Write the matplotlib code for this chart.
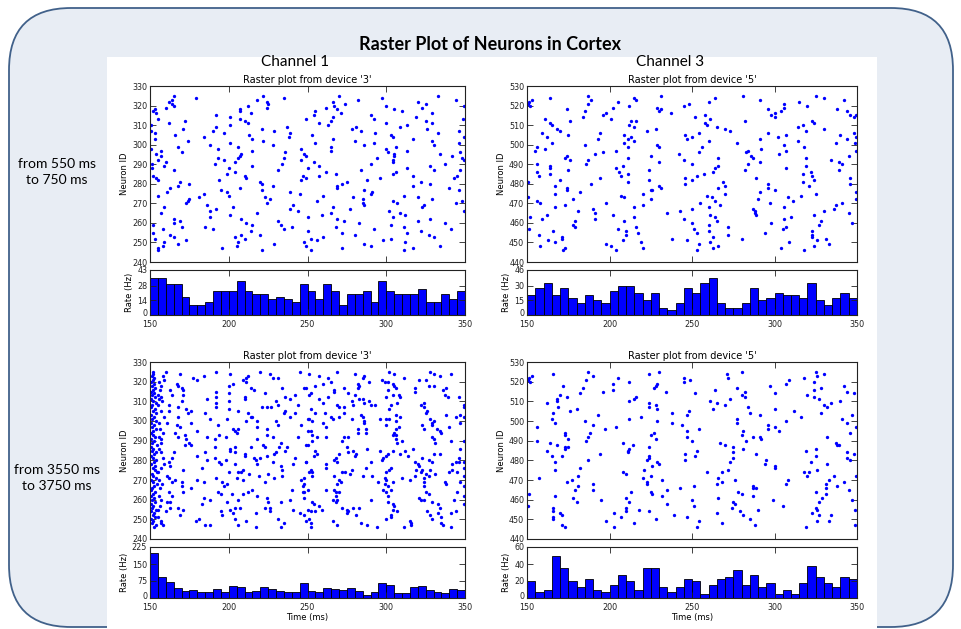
import matplotlib
matplotlib.use('Agg')
import matplotlib.pyplot as plt
import numpy as np
from matplotlib.patches import FancyBboxPatch, Rectangle
from matplotlib.transforms import ScaledTranslation

W, H = 961, 629

# ---------------- data ----------------
bin_start = np.arange(150, 350, 5)   # 5 ms histogram bins

rate_ch1_early = [35, 35, 30, 30, 17.5, 10, 10, 12.5, 22.5, 22.5, 22.5, 32.5, 22.5, 20, 20, 15, 17.5, 15, 12.5, 30,
                  22.5, 15, 30, 22.5, 10, 20, 20, 22.5, 12.5, 32.5, 22.5, 20, 20, 20, 25, 12.5, 12.5, 20, 15, 22.5]
rate_ch3_early = [20, 27.5, 32.5, 20, 27.5, 17.5, 12.5, 20, 15, 12.5, 25, 30, 30, 22.5, 15, 22.5, 7.5, 5, 12.5, 27.5,
                  22.5, 32.5, 37.5, 12.5, 7.5, 7.5, 12.5, 27.5, 15, 17.5, 22.5, 20, 20, 17.5, 32.5, 15, 10, 17.5, 22.5, 17.5]
rate_ch1_late = [200, 92.5, 72.5, 45, 30, 35, 25, 25, 40, 27.5, 52.5, 50, 27.5, 30, 50, 40, 30, 27.5, 27.5, 67.5,
                 32.5, 25, 42.5, 40, 37.5, 42.5, 30, 15, 25, 67.5, 57.5, 20, 22.5, 50, 55, 37.5, 27.5, 22.5, 40, 37.5]
rate_ch3_late = [20, 7.5, 10, 50, 35, 20, 12.5, 22.5, 10, 7.5, 15, 27.5, 20, 10, 35, 35, 12.5, 7.5, 12.5, 22.5,
                 20, 5, 15, 22.5, 25, 32.5, 15, 27.5, 12.5, 17.5, 5, 10, 5, 17.5, 37.5, 25, 17.5, 12.5, 25, 22.5]

rate_ticks_ch1_early = [0, 14, 28, 43]
rate_ticks_ch3_early = [0, 15, 30, 46]
rate_ticks_ch1_late = [0, 75, 150, 225]
rate_ticks_ch3_late = [0, 20, 40, 60]

# spikes as (time ms, neuron id)
spikes_ch1_early = [
    (165, 325), (179, 324), (164, 323), (162, 322), (164, 321), (165, 320), (160, 319), (153, 318), (152, 317), (154, 316),
    (155, 313), (162, 311), (172, 312), (171, 308), (150.5, 310), (150.5, 307), (153, 306), (166, 305), (153, 303), (174, 302),
    (168, 299), (150.5, 298), (157, 297), (154, 295), (170, 296), (157, 294), (155, 292), (151, 290), (160, 291), (159, 289),
    (151, 288), (165, 287), (152, 284), (154, 283), (155, 282), (169, 281), (168, 279), (175, 280), (163, 278), (161, 276),
    (155, 274), (175, 272), (174, 271), (173, 270), (159, 268), (157, 265), (165, 262), (165, 260), (169, 261), (170, 258),
    (152, 259), (158, 257), (163, 254), (165, 253), (152, 255), (153, 252), (173, 251), (168, 249), (159, 250), (158, 248),
    (155, 247), (155, 246),
    (192, 315), (201, 314), (192, 309), (190, 307), (184, 304), (201, 310), (197, 306), (188, 300), (193, 298), (201, 301),
    (207, 318), (207, 317), (214, 316), (212, 320), (207, 313), (210, 312), (212, 311), (206, 299), (213, 305), (215, 303),
    (215, 297), (193, 293), (197, 292), (204, 291), (207, 294), (208, 295), (206, 293), (191, 290), (200, 288), (199, 285),
    (204, 286), (194, 282), (210, 284), (211, 283), (215, 289), (195, 277), (199, 276), (200, 274), (207, 278), (184, 275),
    (181, 273), (186, 269), (188, 266), (192, 267), (188, 263), (201, 264), (203, 268), (185, 258), (190, 257), (208, 262),
    (211, 260), (215, 259), (214, 256), (204, 253), (210, 252), (208, 254), (206, 250), (205, 248), (196, 247), (220, 254),
    (221, 246), (218, 265), (220, 281), (221, 280), (221, 277), (223, 273), (224, 270), (226, 272), (228, 279),
    (222, 325), (218, 323), (224, 322), (225, 321), (224, 319), (235, 324), (221, 308), (222, 302), (229, 307), (228, 300),
    (237, 309), (239, 306), (238, 304), (249, 313), (246, 298), (248, 295), (249, 294), (246, 292), (236, 296), (235, 293),
    (234, 290), (231, 287), (246, 282), (247, 284), (239, 276), (245, 275), (241, 269), (239, 267), (244, 266), (231, 261),
    (233, 259), (235, 257), (240, 258), (250, 263), (250, 256), (229, 249), (248, 250), (249, 248),
    (270, 325), (282, 323), (266, 322), (297, 324), (274, 321), (267, 320), (262, 319), (269, 318), (271, 316), (255, 317),
    (254, 315), (266, 314), (265, 312), (263, 310), (257, 311), (290, 315), (292, 313), (300, 320), (305, 318), (310, 317),
    (300, 311), (309, 309), (313, 310), (320, 322), (325, 321), (323, 319), (329, 316), (319, 314), (325, 312), (329, 311),
    (326, 308), (333, 325), (344, 323), (349.5, 320), (349, 313),
    (278, 308), (281, 309), (284, 307), (293, 306), (253, 305), (255, 301), (266, 303), (265, 299), (265, 297), (280, 302),
    (286, 300), (292, 301), (303, 305), (304, 304), (300, 298), (301, 296), (306, 299), (313, 297), (305, 295), (305, 294),
    (304, 292), (304, 291), (317, 303), (329, 302), (330, 300), (333, 306), (346, 307), (349.5, 304), (346, 301), (347, 296),
    (342, 294), (348, 293), (334, 295), (337, 290), (349.5, 292),
    (250, 288), (254, 291), (257, 289), (262, 286), (268, 285), (257, 284), (249, 283), (290, 290), (284, 287), (294, 293),
    (313, 288), (304, 285), (306, 286), (296, 283), (288, 282), (317, 284), (322, 281), (317, 279), (328, 280), (328, 289),
    (330, 287), (343, 283), (345, 284), (347, 287), (340, 278), (346, 277),
    (260, 274), (256, 271), (269, 278), (269, 279), (272, 280), (275, 281), (279, 273), (285, 272), (285, 270), (286, 269),
    (286, 277), (291, 276), (290, 275), (304, 271), (307, 270), (311, 274), (320, 273), (324, 269), (323, 268), (329, 272),
    (344, 270), (348, 271), (349.5, 266),
    (259, 264), (266, 268), (265, 265), (269, 262), (273, 261), (277, 267), (283, 260), (268, 258), (272, 255), (260, 253),
    (256, 251), (252, 252), (252, 246),
    (280, 254), (292, 257), (302, 266), (304, 263), (309, 265), (312, 264), (303, 259), (311, 258), (313, 255), (298, 251),
    (303, 252), (312, 250), (320, 261), (322, 256), (328, 262), (327, 254), (330, 253), (337, 260), (341, 257), (286, 249),
    (290, 248), (272, 247), (311, 246), (317, 247), (334, 248),
]

spikes_ch3_early = [
    (151, 522), (153, 523), (152, 520), (164, 524), (150.6, 481), (150.4, 473), (151, 457), (152, 463), (157, 454), (158, 448),
    (156, 490), (156, 486), (157, 484), (156, 471), (158, 470), (155, 497), (156, 499), (161, 513), (164, 511), (165, 510),
    (159, 506), (162, 504), (161, 498), (165, 501), (168, 508), (170, 507), (164, 489), (164, 488), (164, 485), (167, 479),
    (167, 475), (167, 468), (159, 462), (162, 464), (166, 456), (163, 451), (167, 450), (171, 453), (171, 452), (172, 446),
    (173, 447), (170, 482), (174, 518), (176, 512), (175, 505), (173, 493), (174, 494), (176, 492), (175, 487), (174, 478),
    (174, 477), (173, 469), (178, 472), (181, 466), (179, 461), (179, 458), (178, 459), (182, 476), (184, 514), (185, 517),
    (187, 521), (187, 525), (189, 523), (185, 500), (186, 490), (187, 492), (191, 495), (189, 480), (190, 467), (191, 465),
    (191, 462), (193, 503), (194, 483), (194, 506), (196, 515), (198, 516), (196, 496), (198, 470), (202, 519), (201, 513),
    (202, 464), (198, 449), (201, 448), (204, 446), (204, 497), (204, 488), (205, 522), (206, 486), (207, 484), (207, 474),
    (208, 489), (209, 473), (211, 481), (209, 505), (209, 501), (211, 503), (211, 499), (211, 493), (211, 485), (209, 461),
    (210, 456), (210, 454), (208, 451), (205, 457), (212, 520), (212, 510), (213, 512), (215, 524), (216, 523), (215, 509),
    (216, 512), (213, 504), (215, 502), (215, 463), (216, 458), (217, 455), (215, 468), (220, 475), (220, 469), (219, 450),
    (220, 447), (223, 507), (224, 487), (224, 482), (225, 477), (225, 472), (226, 477), (225, 494), (228, 508), (229, 500),
    (230, 499), (230, 491), (229, 519), (231, 518), (230, 517), (231, 525), (230, 479), (231, 478), (235, 465), (237, 516),
    (238, 452), (242, 495), (245, 520), (245, 492), (150.4, 521),
    (248, 521), (260, 522), (264, 524), (281, 525), (291, 523), (306, 521), (306, 519), (296, 518), (298, 515), (300, 514),
    (300, 516), (304, 517), (315, 522), (320, 520), (325, 525), (330, 524), (342, 523), (338, 518), (344, 517), (346, 515),
    (348, 514), (349.5, 515), (252, 514), (258, 515), (261, 513), (258, 511), (259, 510), (265, 509), (270, 508), (273, 507),
    (254, 506), (246, 505), (247, 503), (250, 504), (260, 502), (256, 499), (254, 496), (250, 490), (277, 501), (282, 512),
    (284, 497), (283, 496), (286, 494), (287, 493), (291, 491), (284, 490), (282, 487), (292, 498), (291, 503), (296, 506),
    (302, 504), (307, 505), (303, 495), (307, 497), (306, 500), (307, 488), (314, 509), (317, 510), (319, 507), (314, 502),
    (318, 499), (323, 512), (324, 511), (330, 508), (319, 493), (319, 489), (322, 486), (323, 484), (324, 482), (317, 485),
    (317, 481), (321, 479), (325, 475), (316, 474), (340, 505), (337, 501), (344, 503), (348, 506), (349.5, 504), (349.5, 497),
    (349, 501), (345, 494), (334, 492), (339, 491), (341, 490), (339, 487), (346, 483), (346, 480), (349.5, 476), (349.5, 472),
    (341, 470), (337, 469), (336, 467), (345, 465), (347, 460), (330, 466), (328, 461), (327, 459), (324, 464), (323, 456),
    (323, 454), (323, 453), (326, 451), (331, 452), (333, 449), (324, 448), (318, 446), (309, 450), (304, 447), (246, 483),
    (246, 480), (250, 482), (253, 484), (257, 485), (264, 488), (263, 486), (266, 489), (266, 493), (269, 481), (270, 479),
    (266, 478), (270, 475), (259, 474), (262, 473), (264, 471), (260, 468), (255, 470), (250, 467), (243, 466), (245, 462),
    (261, 464), (264, 463), (265, 461), (267, 469), (272, 458), (272, 454), (250, 460), (251, 457), (253, 455), (260, 459),
    (260, 456), (263, 453), (247, 451), (261, 450), (254, 449), (253, 446), (263, 447), (266, 448), (280, 452), (289, 483),
    (291, 476), (290, 472), (296, 480), (296, 478), (300, 477), (297, 470), (287, 467), (288, 466), (288, 465), (289, 464),
    (298, 460), (294, 455), (306, 462), (310, 463), (308, 473), (311, 471), (306, 468), (307, 458), (305, 457),
]

spikes_ch1_late = [
    # onset burst, one spike per neuron in the first bin
    (151.6, 325), (152.2, 324), (151.1, 323), (152.8, 322), (151.9, 321), (150.7, 320), (152.4, 319), (151.3, 318),
    (153.0, 317), (151.8, 316), (150.9, 315), (152.6, 314), (151.4, 313), (153.3, 312), (150.6, 311), (152.0, 310),
    (153.8, 309), (151.2, 308), (150.4, 307), (152.9, 306), (151.7, 305), (154.1, 304), (150.8, 303), (152.3, 302),
    (151.5, 301), (153.5, 300), (150.5, 299), (152.7, 298), (151.0, 297), (153.9, 296), (152.1, 295), (150.9, 294),
    (151.8, 293), (153.2, 292), (150.6, 291), (152.5, 290), (151.4, 289), (154.4, 288), (150.8, 287), (152.0, 286),
    (151.2, 285), (153.6, 284), (152.8, 283), (150.7, 282), (151.9, 281), (154.0, 280), (152.4, 279), (150.5, 278),
    (153.1, 277), (151.6, 276), (152.9, 275), (154.6, 274), (151.0, 273), (152.2, 272), (153.7, 271), (150.9, 270),
    (151.8, 269), (154.2, 268), (152.6, 267), (151.3, 266), (150.6, 265), (153.4, 264), (151.9, 263), (150.8, 262),
    (152.7, 261), (151.5, 260), (153.0, 259), (150.4, 258), (152.1, 257), (151.2, 256), (153.8, 255), (150.9, 254),
    (152.4, 253), (151.6, 252), (153.3, 251), (150.7, 250), (152.0, 249), (151.1, 248), (153.6, 247), (152.5, 246),
    (155.6, 320), (156.3, 316), (155.2, 308), (156.8, 305), (155.9, 299), (156.5, 296), (155.4, 286), (157.3, 284),
    (155.8, 270), (156.2, 266), (155.5, 262), (157.0, 260), (156.4, 257), (155.3, 255), (157.6, 310), (156.9, 318),
    (155.7, 292), (157.4, 268),
    (160, 325), (169, 324), (177, 322), (180, 321), (184, 323), (192, 325), (201, 324), (209, 321), (211, 322), (212, 323),
    (220, 325), (226, 324), (228, 322), (231, 322), (245, 325), (158, 323), (159, 321), (167, 319), (168, 318), (170, 317),
    (171, 316), (163, 316), (164, 313), (192, 315), (200, 318), (203, 319), (200, 314), (214, 317), (216, 316), (211, 320),
    (223, 314), (234, 317), (236, 312), (239, 311), (248, 317), (242, 313), (156, 311), (155, 313), (157, 312), (162, 308),
    (168, 307), (170, 310), (171, 313), (186, 311), (192, 312), (192, 309), (192, 307), (200, 310), (200, 306), (206, 305),
    (210, 312), (210, 311), (212, 304), (215, 302), (221, 307), (224, 307), (227, 307), (230, 310), (231, 308), (235, 304),
    (236, 305), (239, 302), (242, 304), (244, 308), (159, 302), (161, 299), (162, 305), (168, 302), (167, 298), (169, 297),
    (173, 306), (174, 304), (176, 305), (176, 299), (185, 304), (188, 301), (193, 298), (199, 301), (203, 296), (204, 295),
    (205, 294), (206, 296), (211, 300), (214, 302), (218, 300), (218, 297), (224, 296), (230, 300), (231, 298), (246, 298),
    (250, 301), (158, 294), (157, 291), (157, 289), (166, 294), (168, 292), (172, 293), (173, 291), (175, 289), (176, 288),
    (172, 288), (180, 295), (186, 292), (191, 291), (191, 287), (194, 293), (198, 292), (201, 285), (201, 286), (204, 287),
    (204, 284), (210, 283), (214, 287), (218, 291), (222, 288), (224, 293), (223, 287), (228, 292), (233, 289), (232, 287),
    (229, 283), (236, 285), (237, 287), (244, 292), (249, 288), (165, 284), (158, 281), (159, 278), (162, 279), (163, 277),
    (164, 281), (171, 275), (180, 282), (185, 284), (186, 280), (191, 281), (194, 279), (195, 278), (198, 280), (204, 278),
    (209, 275), (208, 274), (210, 282), (216, 281), (217, 280), (218, 278), (220, 281), (224, 282), (228, 279), (230, 284),
    (233, 277), (234, 275), (242, 281), (241, 278), (249, 279), (155, 274), (157, 276), (161, 272), (162, 271), (164, 269),
    (166, 270), (170, 269), (180, 270), (183, 276), (184, 269), (192, 271), (196, 269), (197, 267), (199, 268), (200, 274),
    (205, 271), (206, 274), (209, 270), (213, 273), (219, 272), (225, 273), (223, 269), (229, 271), (234, 272), (246, 270),
    (248, 268), (162, 264), (164, 262), (163, 259), (161, 259), (170, 267), (171, 264), (176, 266), (184, 261), (183, 258),
    (188, 260), (193, 264), (195, 263), (199, 259), (202, 263), (206, 260), (209, 263), (207, 256), (212, 264), (215, 265),
    (218, 262), (224, 261), (225, 259), (226, 256), (233, 259), (240, 265), (239, 260), (247, 267), (247, 264), (248, 261),
    (160, 254), (163, 256), (168, 256), (169, 252), (171, 255), (179, 249), (181, 250), (185, 247), (188, 247), (195, 254),
    (196, 252), (201, 255), (203, 253), (204, 250), (204, 256), (206, 247), (211, 249), (217, 246), (217, 253), (223, 256),
    (226, 254), (231, 250), (233, 246), (235, 248), (241, 255), (245, 253), (249, 249), (157, 249), (158, 247), (155, 251),
    (157, 248),
    (251, 324), (257, 323), (269, 325), (280, 324), (286, 323), (285, 322), (282, 319), (283, 318), (282, 317), (263, 322),
    (265, 320), (260, 319), (255, 318), (249, 317), (267, 316), (267, 315), (263, 312), (252, 314), (251, 313), (257, 311),
    (260, 309), (273, 317), (276, 314), (280, 313), (289, 320), (297, 321), (302, 325), (305, 324), (301, 320), (304, 319),
    (305, 318), (306, 317), (301, 316), (299, 320), (311, 322), (304, 313), (300, 312), (308, 313), (309, 312), (307, 309),
    (303, 308), (302, 306), (318, 317), (318, 315), (321, 321), (325, 321), (327, 318), (330, 318), (328, 325), (330, 324),
    (334, 323), (336, 316), (338, 317), (337, 313), (339, 312), (341, 324), (346, 312), (349.5, 308), (349.5, 307),
    (252, 306), (255, 304), (251, 301), (253, 300), (261, 304), (265, 302), (269, 308), (270, 307), (273, 307), (273, 304),
    (266, 301), (270, 302), (278, 310), (279, 308), (283, 311), (285, 311), (286, 309), (289, 310), (284, 303), (285, 302),
    (286, 300), (286, 299), (278, 301), (273, 292), (272, 290), (276, 292), (282, 296), (282, 294), (287, 296), (287, 294),
    (290, 308), (293, 308), (296, 301), (300, 298), (300, 301), (302, 301), (306, 300), (306, 303), (309, 302), (308, 297),
    (306, 296), (305, 294), (306, 293), (304, 293), (306, 291), (310, 290), (307, 289), (322, 308), (324, 307), (324, 309),
    (326, 305), (325, 304), (328, 301), (329, 299), (330, 300), (324, 296), (329, 298), (323, 298), (332, 296), (334, 295),
    (335, 294), (329, 292), (330, 291), (331, 289), (334, 283), (338, 303), (341, 290), (340, 297), (344, 302), (347, 303),
    (347, 299), (349.5, 302), (347, 286), (349.5, 290),
    (250, 295), (252, 295), (253, 293), (250, 288), (253, 290), (256, 292), (255, 285), (256, 283), (254, 282), (260, 299),
    (262, 297), (262, 292), (275, 287), (270, 283), (279, 285), (281, 283), (280, 282), (276, 284), (288, 286), (296, 285),
    (297, 280), (298, 281), (300, 282), (301, 283), (304, 285), (309, 283), (312, 285), (314, 282), (317, 286), (318, 279),
    (320, 278), (323, 281), (327, 280), (329, 279), (330, 283), (342, 278), (344, 279), (346, 279), (346, 281), (349.5, 279),
    (349.5, 276),
    (249, 279), (252, 275), (251, 274), (253, 274), (253, 272), (248, 271), (262, 278), (262, 276), (267, 280), (268, 281),
    (269, 279), (272, 274), (274, 274), (278, 275), (277, 273), (270, 270), (271, 269), (269, 268), (267, 272), (290, 279),
    (287, 276), (285, 272), (291, 272), (300, 274), (302, 275), (303, 276), (299, 271), (300, 270), (299, 268), (301, 267),
    (295, 269), (304, 269), (310, 271), (315, 270), (318, 272), (319, 275), (321, 277), (322, 274), (323, 275), (325, 273),
    (324, 271), (324, 269), (328, 275), (327, 272), (324, 267), (331, 273), (337, 269), (338, 268), (340, 274), (342, 275),
    (345, 274), (347, 269), (349.5, 272), (349.5, 267),
    (250, 265), (248, 264), (253, 259), (254, 258), (257, 257), (259, 255), (250, 255), (252, 254), (255, 254), (248, 252),
    (251, 250), (252, 248), (252, 246), (262, 265), (267, 265), (268, 264), (268, 262), (270, 264), (266, 260), (268, 259),
    (269, 260), (272, 256), (275, 255), (276, 254), (275, 253), (281, 252), (279, 256), (283, 256), (284, 248), (288, 247),
    (290, 260), (266, 249), (269, 247), (294, 246), (298, 265), (300, 264), (303, 265), (301, 262), (301, 259), (304, 258),
    (305, 257), (304, 255), (307, 254), (303, 252), (303, 251), (300, 250), (311, 246), (315, 249), (316, 248), (316, 247),
    (321, 261), (322, 260), (324, 260), (325, 264), (327, 263), (329, 259), (326, 254), (328, 252), (329, 250), (333, 258),
    (334, 256), (333, 253), (335, 251), (335, 248), (336, 247), (341, 246), (341, 253), (344, 254), (343, 260), (345, 264),
    (349.5, 262), (349.5, 258),
]

spikes_ch3_late = [
    (151, 522), (153, 523), (152, 520), (150.4, 521), (166, 524), (172, 518), (170, 513), (174, 512), (168, 511), (168, 510),
    (169, 507), (162, 509), (176, 505), (180, 506), (166, 504), (165, 501), (167, 499), (187, 525), (190, 523), (186, 521),
    (184, 517), (182, 514), (193, 503), (185, 500), (190, 498), (187, 492), (186, 490), (188, 494), (196, 515), (202, 519),
    (202, 516), (205, 522), (212, 520), (212, 510), (215, 511), (216, 512), (212, 501), (204, 497), (208, 489), (211, 485),
    (211, 484), (212, 486), (214, 488), (208, 474), (210, 473), (224, 524), (230, 525), (228, 518), (227, 517), (229, 519),
    (224, 509), (224, 507), (228, 508), (229, 506), (219, 502), (229, 500), (225, 493), (227, 494), (228, 491), (224, 487),
    (224, 482), (224, 481), (223, 480), (226, 477), (221, 475), (230, 478), (229, 479), (220, 471), (223, 469), (223, 468),
    (225, 472), (225, 464), (226, 463), (232, 470), (232, 462), (235, 465), (234, 515), (238, 504), (238, 499), (244, 498),
    (239, 452), (243, 466), (235, 458), (156, 497), (156, 490), (164, 489), (162, 485), (168, 488), (165, 482), (171, 482),
    (173, 486), (173, 487), (173, 494), (173, 493), (175, 491), (175, 487), (167, 479), (167, 475), (182, 476), (181, 472),
    (177, 470), (181, 467), (179, 465), (178, 461), (180, 459), (174, 469), (151, 463), (150.6, 457), (157, 471), (167, 462),
    (166, 456), (166, 454), (166, 451), (166, 450), (170, 453), (171, 452), (171, 447), (173, 446), (190, 468), (190, 465),
    (195, 460), (187, 480), (194, 483), (197, 496), (210, 461), (210, 456), (210, 454), (212, 459), (213, 464), (207, 451),
    (203, 453), (198, 449), (203, 446), (215, 448), (218, 455), (224, 454), (228, 450), (245, 522), (245, 520), (246, 480),
    (249, 521), (252, 514), (264, 516), (271, 524), (272, 522), (280, 525), (277, 517), (282, 515), (280, 513), (282, 512),
    (273, 511), (261, 510), (265, 509), (263, 506), (270, 508), (284, 507), (285, 504), (277, 501), (277, 499), (280, 493),
    (291, 503), (297, 518), (300, 514), (300, 506), (291, 492), (292, 491), (287, 492), (283, 490), (281, 486), (296, 498),
    (296, 496), (300, 497), (303, 495), (307, 500), (307, 519), (309, 521), (312, 505), (316, 502), (318, 522), (324, 520),
    (325, 525), (326, 523), (330, 524), (324, 516), (328, 517), (320, 513), (324, 512), (327, 511), (330, 508), (332, 507),
    (334, 509), (340, 510), (342, 518), (344, 515), (348, 514), (328, 504), (347, 503), (344, 499), (341, 501), (346, 494),
    (349.5, 497), (332, 492), (337, 489), (338, 488), (339, 488), (344, 484), (348, 483), (344, 481), (346, 480), (349.5, 472),
    (248, 505), (247, 503), (247, 495), (247, 492), (250, 490), (246, 483), (253, 485), (252, 482), (254, 496), (267, 489),
    (270, 488), (275, 487), (275, 484), (275, 481), (273, 479), (272, 475), (281, 495), (289, 483), (295, 480), (294, 478),
    (300, 477), (300, 476), (319, 485), (325, 486), (325, 482), (322, 479), (332, 478), (326, 475), (321, 474), (320, 472),
    (318, 474), (333, 470), (331, 468), (331, 466), (325, 464), (342, 469), (345, 465), (338, 467), (336, 472), (259, 474),
    (266, 471), (268, 474), (268, 469), (265, 468), (276, 470), (251, 467), (250, 460), (251, 457), (266, 461), (265, 453),
    (275, 459), (276, 458), (274, 456), (280, 463), (278, 464), (279, 454), (281, 452), (287, 467), (287, 466), (289, 466),
    (287, 462), (290, 455), (285, 450), (288, 447), (299, 460), (305, 457), (307, 468), (308, 470), (247, 451), (254, 449),
    (253, 446), (268, 448), (323, 453), (326, 455), (327, 452), (325, 456), (326, 449), (329, 461), (327, 459), (331, 463),
    (334, 452), (333, 449), (319, 446), (347, 460), (349, 455), (349, 447),
]

# ---------------- layout helpers ----------------
def box(x0, y0, x1, y1):
    # pixel box (top-left origin) -> figure fraction rect
    return [x0 / W, 1 - y1 / H, (x1 - x0) / W, (y1 - y0) / H]


def frame(ax):
    ax.tick_params(direction='in', top=True, right=True, length=4, width=0.6,
                   labelsize=5.8, pad=2, colors='#222222')
    for sp in ax.spines.values():
        sp.set_linewidth(0.8)
        sp.set_color('#222222')


def raster(rect, spikes, ylo, title, hist_rect, rates, rticks, xlabel=False):
    ax = fig.add_axes(box(*rect))
    t, ids = zip(*spikes)
    ax.plot(t, ids, 'o', ms=2.4, mew=0, color='blue')
    ax.set_xlim(150, 350)
    ax.set_ylim(ylo, ylo + 90)
    ax.set_yticks(range(ylo, ylo + 91, 10))
    ax.set_xticks([150, 200, 250, 300, 350])
    ax.set_xticklabels([])
    ax.set_title(title, fontsize=7, pad=2.5)
    ax.set_ylabel('Neuron ID', fontsize=6, labelpad=2)
    frame(ax)

    hx = fig.add_axes(box(*hist_rect))
    hx.bar(bin_start, rates, width=5, align='edge', color='blue',
           edgecolor='black', linewidth=0.6)
    hx.set_xlim(150, 350)
    hx.set_ylim(0, rticks[-1])
    hx.set_yticks(rticks)
    hx.set_xticks([150, 200, 250, 300, 350])
    hx.set_ylabel('Rate (Hz)', fontsize=6, labelpad=2)
    if xlabel:
        hx.set_xlabel('Time (ms)', fontsize=6, labelpad=0.5)
    frame(hx)
    hx.tick_params(axis='x', pad=3.5)
    # nudge the "0" label up a little, as in the original, so it clears the time labels
    zero = hx.get_yticklabels()[0]
    zero.set_transform(zero.get_transform() + ScaledTranslation(0, 1.8 / 72, fig.dpi_scale_trans))


fig = plt.figure(figsize=(W / 100, H / 100), dpi=100)

bg = fig.add_axes([0, 0, 1, 1])
bg.set_xlim(0, W)
bg.set_ylim(H, 0)
bg.axis('off')
bg.add_patch(FancyBboxPatch((9, 8), 944, 619, boxstyle='round,pad=0,rounding_size=62',
                            fc='#e8edf4', ec='#41618a', lw=1.3))
bg.add_patch(Rectangle((107, 57), 770, 572, fc='white', ec='none'))

slide_font = ['Lato', 'DejaVu Sans']
bg.text(490, 44, 'Raster Plot of Neurons in Cortex', ha='center', va='center',
        fontsize=13, fontweight='bold', family=slide_font, color='black')
bg.text(295, 62, 'Channel 1', ha='center', va='center', fontsize=11, family=slide_font)
bg.text(670, 62, 'Channel 3', ha='center', va='center', fontsize=11, family=slide_font)
bg.text(57, 172, 'from 550 ms\nto 750 ms', ha='center', va='center', fontsize=10,
        family=slide_font, linespacing=1.45)
bg.text(57, 478, 'from 3550 ms\nto 3750 ms', ha='center', va='center', fontsize=10,
        family=slide_font, linespacing=1.45)

raster((150, 86, 465, 262), spikes_ch1_early, 240, "Raster plot from device '3'",
       (150, 270, 465, 315), rate_ch1_early, rate_ticks_ch1_early)
raster((527, 86, 857, 262), spikes_ch3_early, 440, "Raster plot from device '5'",
       (527, 270, 857, 315), rate_ch3_early, rate_ticks_ch3_early)
raster((150, 362, 465, 539), spikes_ch1_late, 240, "Raster plot from device '3'",
       (150, 547, 465, 598), rate_ch1_late, rate_ticks_ch1_late, xlabel=True)
raster((527, 362, 857, 539), spikes_ch3_late, 440, "Raster plot from device '5'",
       (527, 547, 857, 598), rate_ch3_late, rate_ticks_ch3_late, xlabel=True)

fig.savefig('out.png', dpi=100)
